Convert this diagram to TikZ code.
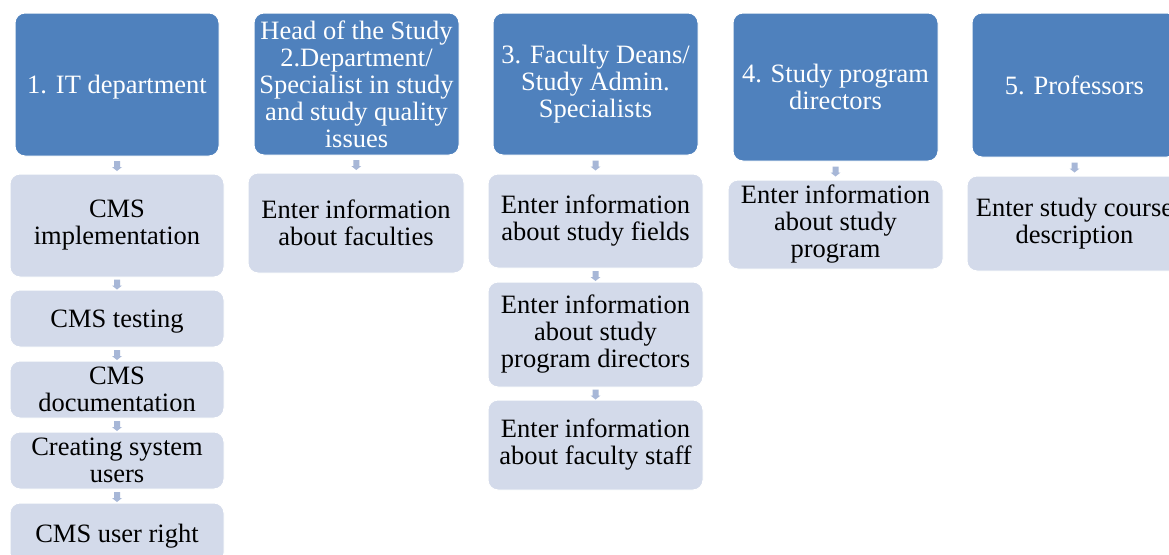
\documentclass[tikz,border=0pt]{standalone}
\usepackage{fontspec}
\setmainfont{Liberation Serif}
\usetikzlibrary{calc}
\definecolor{hblue}{RGB}{79,129,189}
\definecolor{subfill}{RGB}{211,218,234}
\definecolor{arrowc}{RGB}{167,183,215}
\newcommand{\flowarrow}[2]{\fill[arrowc] ($(#1.south)!.5!(#2.north)+(-3,-4)$) -- ++(6,0) -- ++(0,6) -- ++(2,0) -- ++(-5,4) -- ++(-5,-4) -- ++(2,0) -- cycle;}
\begin{document}
\begin{tikzpicture}[x=1pt,y=-1pt,
  box/.style={rectangle,rounded corners=10pt,draw=white,line width=1pt,inner sep=0pt,align=center,font=\fontsize{26.5}{27}\selectfont},
  headbox/.style={box,fill=hblue,text=white},
  subbox/.style={box,fill=subfill,text=black}]
\clip (0,0) rectangle (1169,554);
\fill[white] (0,0) rectangle (1169,554);
% column 1
\node[headbox,minimum width=204pt,minimum height=143pt,text depth=0pt] (h1) at (117,84.5) {1. IT department};
\node[subbox,minimum width=214pt,minimum height=103pt] (c11) at (117,225.5) {CMS\\implementation};
\node[subbox,minimum width=214pt,minimum height=57pt,text depth=0pt] (c12) at (117,318.5) {CMS testing};
\node[subbox,minimum width=214pt,minimum height=57pt] (c13) at (117,389.5) {CMS\\documentation};
\node[subbox,minimum width=214pt,minimum height=57pt] (c14) at (117,460.5) {Creating system\\users};
\node[subbox,minimum width=214pt,minimum height=60pt,text depth=0pt] (c15) at (117,533) {CMS user right};
% column 2
\node[headbox,minimum width=205pt,minimum height=142pt] (h2) at (356.5,84) {Head of the Study\\2.Department/\\Specialist in study\\and study quality\\issues};
\node[subbox,minimum width=216pt,minimum height=100pt] (c21) at (356,223) {Enter information\\about faculties};
% column 3
\node[headbox,minimum width=205pt,minimum height=142pt] (h3) at (595.5,84) {3. Faculty Deans/\\Study Admin.\\Specialists};
\node[subbox,minimum width=215pt,minimum height=94pt] (c31) at (595.5,221) {Enter information\\about study fields};
\node[subbox,minimum width=215pt,minimum height=105pt] (c32) at (595.5,334.5) {Enter information\\about study\\program directors};
\node[subbox,minimum width=215pt,minimum height=90pt] (c33) at (595.5,445) {Enter information\\about faculty staff};
% column 4
\node[headbox,minimum width=205pt,minimum height=148pt] (h4) at (835.5,87) {4. Study program\\directors};
\node[subbox,minimum width=215pt,minimum height=89pt] (c41) at (835.5,224.5) {Enter information\\about study\\program};
% column 5
\node[headbox,minimum width=205pt,minimum height=144pt] (h5) at (1074.5,85) {5. Professors};
\node[subbox,minimum width=215pt,minimum height=95pt] (c51) at (1074.5,223.5) {Enter study course\\description};
% arrows
\flowarrow{h1}{c11}
\flowarrow{c11}{c12}
\flowarrow{c12}{c13}
\flowarrow{c13}{c14}
\flowarrow{c14}{c15}
\flowarrow{h2}{c21}
\flowarrow{h3}{c31}
\flowarrow{c31}{c32}
\flowarrow{c32}{c33}
\flowarrow{h4}{c41}
\flowarrow{h5}{c51}
\end{tikzpicture}
\end{document}
